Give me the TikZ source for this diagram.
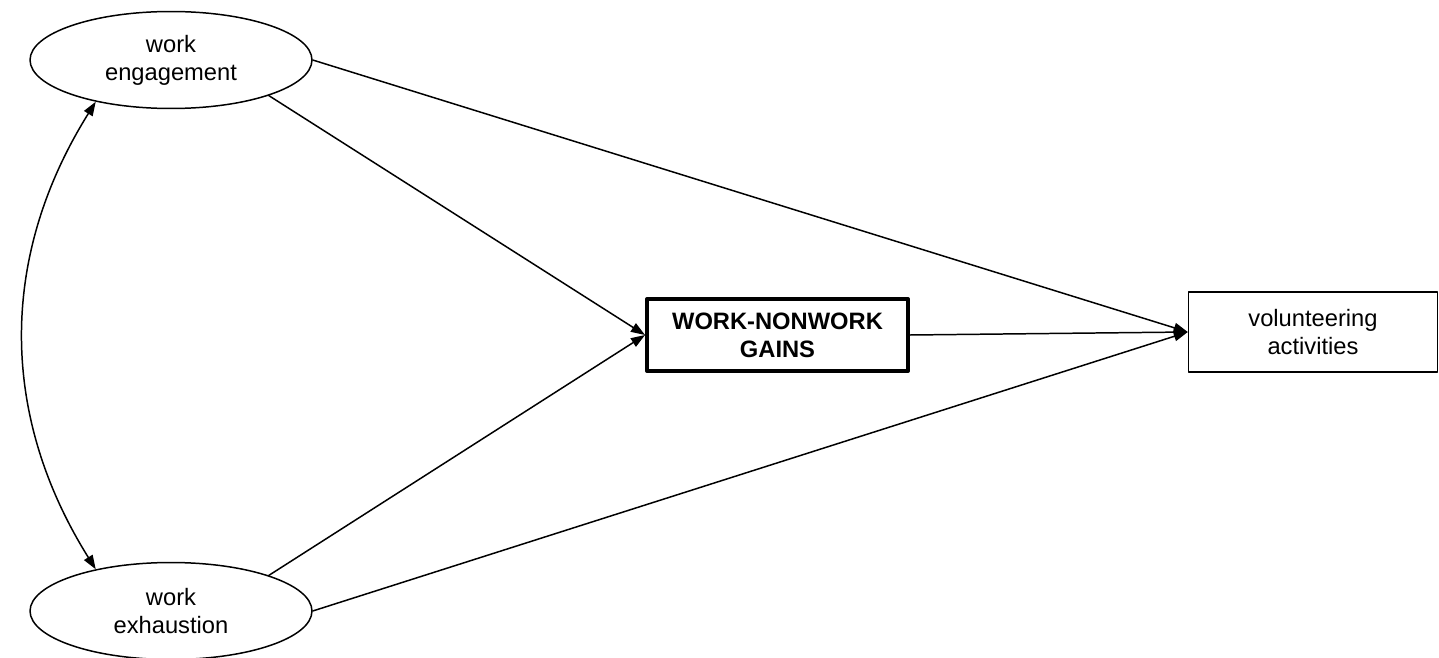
\documentclass[tikz,border=0pt]{standalone}
\usepackage{fontspec}
\setmainfont{Liberation Sans}
\usetikzlibrary{shapes.geometric,arrows.meta}

\begin{document}
\begin{tikzpicture}[line cap=round,line join=round,>={Triangle[length=8pt,width=5.6pt]},x=0.02cm,y=0.02cm,
	font=\fontsize{13.5}{15.9}\selectfont,
	latent/.style={draw,ellipse,line width=0.85pt,minimum width=5.64cm,minimum height=1.94cm,inner sep=0pt,align=center},
	gainbox/.style={draw,line width=2.3pt,minimum width=5.22cm,minimum height=1.44cm,align=center,font=\fontsize{13.5}{15.9}\selectfont\bfseries},
	obsbox/.style={draw,line width=0.85pt,minimum width=4.98cm,minimum height=1.6cm,align=center},
	path/.style={->,line width=0.85pt}]
	\useasboundingbox (0,0) rectangle (1439,657);
	\node[latent] (eng) at (171,597) {work\\engagement};
	\node[latent] (exh) at (171,46) {work\\exhaustion};
	\node[gainbox] (gain) at (777.5,322) {WORK-NONWORK\\GAINS};
	\node[obsbox] (vol) at (1313,325) {volunteering\\activities};
	\draw[path] (eng.east) -- (vol.west);
	\draw[path] (eng.340) -- (gain.west);
	\draw[path] (exh.20) -- (gain.west);
	\draw[path] (exh.east) -- (vol.west);
	\draw[path] (gain.east) -- (vol.west);
	\draw[path,<->] (eng.209) to[out=238,in=122] (exh.151);
\end{tikzpicture}
\end{document}
